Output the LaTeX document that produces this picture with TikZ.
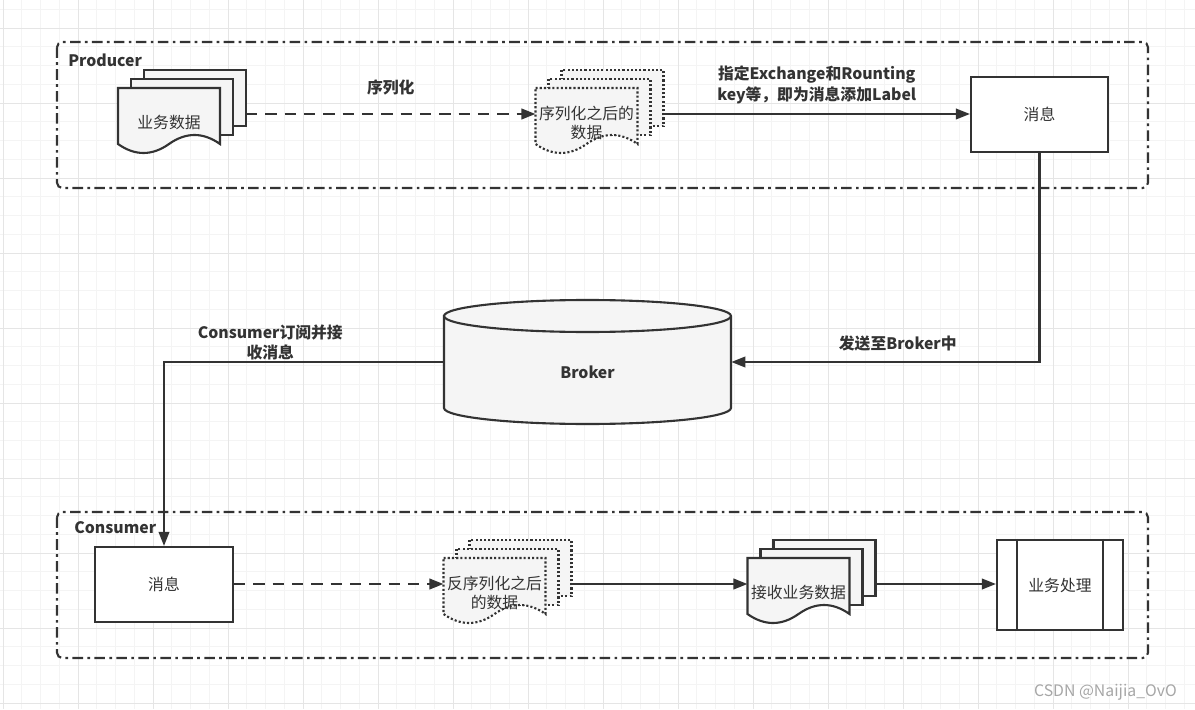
\documentclass[tikz,border=0pt]{standalone}
\usepackage{fontspec}
\setmainfont{Noto Sans CJK SC}
\usetikzlibrary{arrows.meta,calc}
\definecolor{ink}{HTML}{333333}
\definecolor{paper}{HTML}{F5F5F5}
\tikzset{
  >={Triangle[length=8pt,width=6pt]},
  line/.style={ink, line width=1.2pt},
  dots/.style={line, dash pattern=on 1.2pt off 1.2pt},
  dashline/.style={line, dash pattern=on 6.5pt off 4.5pt},
  group/.style={line, rounded corners=3pt, dash pattern=on 6pt off 2.5pt on 1.5pt off 2.5pt},
  box/.style={draw=ink, line width=1.2pt, fill=white, minimum width=2.76cm, minimum height=1.5cm, text=ink, font=\fontsize{9}{11}\selectfont},
  page/.style={minimum width=2.04cm, minimum height=1.28cm, inner sep=0pt, text=ink, align=center, font=\fontsize{9}{11}\selectfont},
  lbl/.style={text=ink, font=\bfseries\fontsize{9}{11.5}\selectfont, align=center},
}
% stacked documents: name, x, y, text, line style
\newcommand{\docstack}[5]{%
  \foreach \k in {2,1} {
    \filldraw[#5, fill=paper] (#2-51+13*\k,#3-32-9*\k) rectangle (#2+51+13*\k,#3+24-9*\k);
  }
  \filldraw[#5, fill=paper] (#2-51,#3-32) -- (#2+51,#3-32) -- (#2+51,#3+24)
    .. controls (#2+34,#3+12) and (#2+17,#3+12) .. (#2,#3+24)
    .. controls (#2-17,#3+36) and (#2-34,#3+36) .. (#2-51,#3+24) -- cycle;
  \node[page] (#1) at (#2,#3+3) {#4};
  \coordinate (#1-in) at (#2-51,#3-6);
  \coordinate (#1-out) at (#2+77,#3-6);
}

\begin{document}
\begin{tikzpicture}[x=0.02cm, y=-0.02cm]
  \useasboundingbox (0,0) rectangle (1195,709);

  % grid
  \foreach \i in {0,...,63} \draw[gray!9, line width=0.5pt] (3+18.75*\i,0) -- (3+18.75*\i,709);
  \foreach \i in {0,...,37} \draw[gray!9, line width=0.5pt] (0,9.25+18.75*\i) -- (1195,9.25+18.75*\i);
  \foreach \i in {0,...,15} \draw[gray!20, line width=0.5pt] (3+75*\i,0) -- (3+75*\i,709);
  \foreach \i in {0,...,9} \draw[gray!20, line width=0.5pt] (0,28+75*\i) -- (1195,28+75*\i);

  % groups
  \draw[group] (57,42) rectangle (1148,188);
  \draw[group] (57,512) rectangle (1148,658);
  \node[lbl, anchor=west, inner sep=0pt] (prodtitle) at (68,60) {Producer};
  \node[lbl, anchor=west, inner sep=0pt] (contitle) at (74,528) {Consumer};

  % producer
  \docstack{data}{169}{120}{业务数据}{line}
  \docstack{ser}{586.5}{120}{序列化之后的\\数据}{dots}
  \node[box, minimum width=2.74cm] (prodmsg) at (1039.5,114.5) {消息};

  \draw[dashline, ->] (data-out) -- (ser-in) node[lbl, midway, above=7pt] {序列化};
  \draw[line, ->] (ser-out) -- (ser-out -| prodmsg.west)
    node[lbl, midway, above=2pt] {指定Exchange和Rounting\\key等，即为消息添加Label};

  % consumer
  \node[box] (conmsg) at (164,584.5) {消息};
  \docstack{deser}{494.5}{590}{反序列化之后\\的数据}{dots}
  \docstack{recv}{798.5}{590}{接收业务数据}{line}
  \node[box, minimum width=2.52cm, minimum height=1.8cm] (proc) at (1060,585) {业务处理};
  \draw[line] ($(proc.north west)+(21,0)$) -- ($(proc.south west)+(21,0)$);
  \draw[line] ($(proc.north east)+(-21,0)$) -- ($(proc.south east)+(-21,0)$);

  \draw[dashline, ->] (conmsg.east |- deser-in) -- (deser-in);
  \draw[line, ->] (deser-out) -- (recv-in);
  \draw[line, ->] (recv-out) -- (recv-out -| proc.west);

  % broker
  \filldraw[line, fill=paper] (444,316) -- (444,408)
    arc[start angle=180, end angle=360, x radius=2.87cm, y radius=0.32cm] -- (731,316)
    arc[start angle=0, end angle=180, x radius=2.87cm, y radius=0.32cm] -- cycle;
  \draw[line] (444,316) arc[start angle=180, end angle=360, x radius=2.87cm, y radius=0.32cm];
  \node[minimum width=5.74cm, minimum height=2.5cm,
    label={[lbl, yshift=-0.2cm]center:Broker}] (broker) at (587.5,362) {};

  \draw[line, ->] (prodmsg.south) |- (broker.east) node[lbl, pos=0.73, above=2pt] {发送至Broker中};
  \draw[line, ->] (broker.west) -| (conmsg.north) node[lbl, pos=0.31, above=-3pt] {Consumer订阅并接\\收消息};

  \node[text=gray!70, anchor=east, font=\fontsize{9}{11}\selectfont] (mark) at (1183,692) {CSDN @Naijia\_OvO};
\end{tikzpicture}
\end{document}
